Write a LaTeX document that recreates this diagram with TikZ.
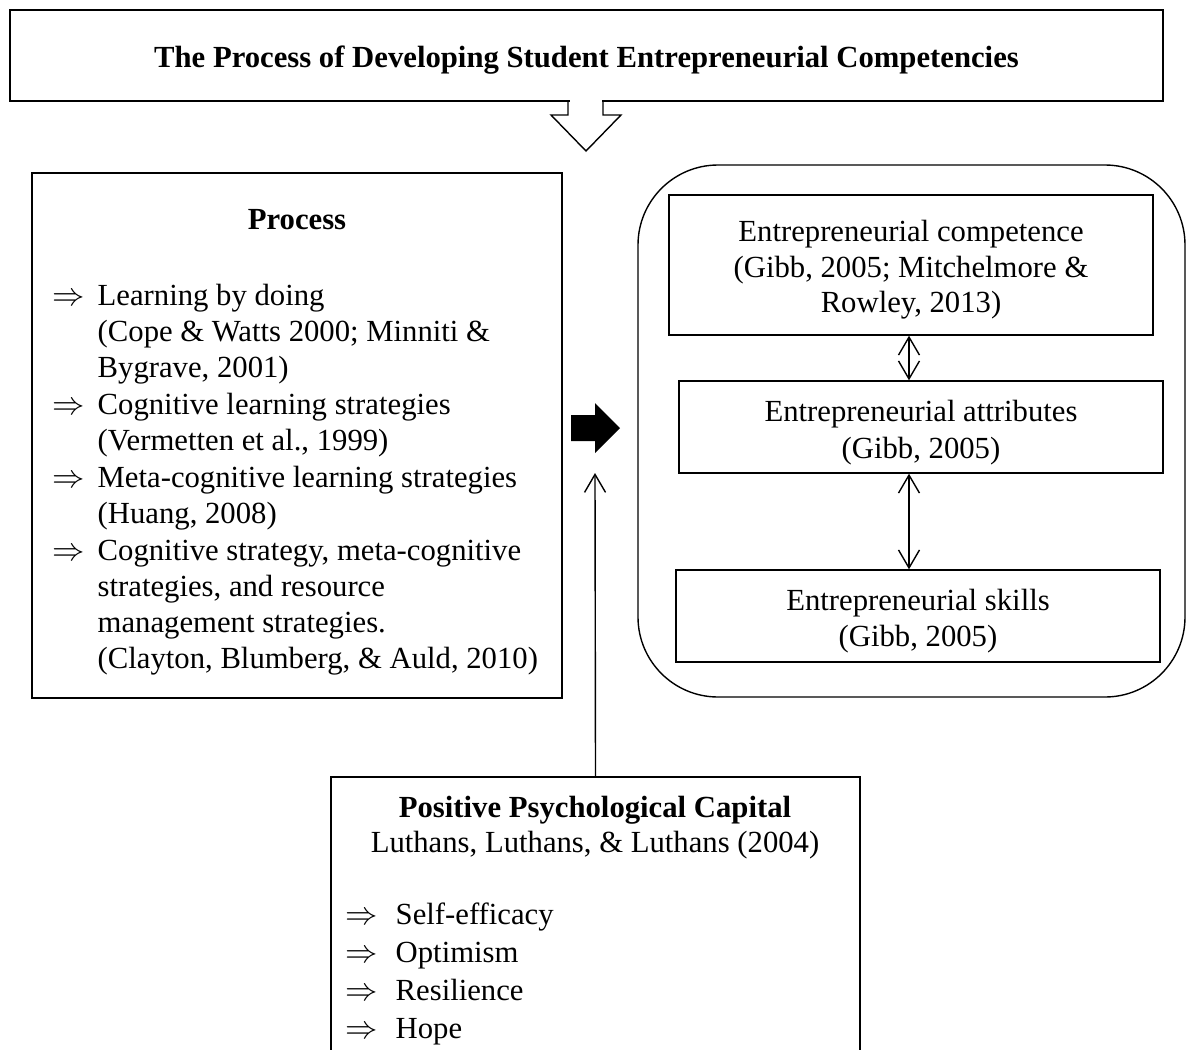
\documentclass[tikz,border=0pt]{standalone}
\usepackage{fontspec}
\usepackage{graphicx}
\setmainfont{Liberation Serif}
\usetikzlibrary{arrows.meta}
\tikzset{barbtip/.tip={Straight Barb[length=18pt,width=21pt,line width=1.4pt]}}
\newcommand{\rarr}{\scalebox{1.3}{$\Rightarrow$}}
\begin{document}
\begin{tikzpicture}[x=1pt,y=-1pt,line width=1.4pt,
  box/.style={draw,rectangle,inner sep=0pt},
  bodyfont/.style={font=\fontsize{30.7}{36}\selectfont},
  lt/.style={bodyfont,anchor=base west,inner sep=0pt},
  ct/.style={bodyfont,anchor=base,inner sep=0pt},
  bt/.style={font=\fontsize{30.7}{36}\selectfont\bfseries,anchor=base,inner sep=0pt},
  dbl/.style={barbtip-barbtip},
  sgl/.style={-barbtip},
]
\useasboundingbox (0,0) rectangle (1187,1050);

% title box and down arrow
\node[box,minimum width=1153pt,minimum height=91pt] (title) at (586.5,55.5) {};
\node[bt] (titletxt) at (586.5,67) {The Process of Developing Student Entrepreneurial Competencies};
\fill[white] (569.5,98) rectangle (601.5,104);
\draw[line join=miter] (568,101) -- (568,115) -- (551,115) -- (586,151) -- (621,115) -- (603,115) -- (603,101);

% process box
\node[box,minimum width=530pt,minimum height=525pt] (proc) at (297,435.5) {};
\node[bt] (proct) at (297,229) {Process};
\node[lt] (pa1) at (52,305) {\rarr};
\node[lt] (p1) at (97,305) {Learning by doing};
\node[lt] (p2) at (97,341) {(Cope \& Watts 2000; Minniti \&};
\node[lt] (p3) at (97,377) {Bygrave, 2001)};
\node[lt] (pa2) at (52,414) {\rarr};
\node[lt] (p4) at (97,414) {Cognitive learning strategies};
\node[lt] (p5) at (97,450) {(Vermetten et al., 1999)};
\node[lt] (pa3) at (52,487) {\rarr};
\node[lt] (p6) at (97,487) {Meta-cognitive learning strategies};
\node[lt] (p7) at (97,523) {(Huang, 2008)};
\node[lt] (pa4) at (52,560) {\rarr};
\node[lt] (p8) at (97,560) {Cognitive strategy, meta-cognitive};
\node[lt] (p9) at (97,596) {strategies, and resource};
\node[lt] (p10) at (97,632) {management strategies.};
\node[lt] (p11) at (97,668) {(Clayton, Blumberg, \& Auld, 2010)};

% block arrow
\fill (571,415) -- (595,415) -- (595,403) -- (620,428) -- (595,453) -- (595,441) -- (571,441) -- cycle;

% right container
\node[draw,rectangle,rounded corners=80pt,inner sep=0pt,minimum width=547pt,minimum height=532pt] (cont) at (911.5,431) {};

\node[box,minimum width=484pt,minimum height=140pt] (b1) at (911,265) {};
\node[ct] (b1a) at (911,241) {Entrepreneurial competence};
\node[ct] (b1b) at (911,277) {(Gibb, 2005; Mitchelmore \&};
\node[ct] (b1c) at (911,312) {Rowley, 2013)};

\node[box,minimum width=484pt,minimum height=92pt] (b2) at (921,427) {};
\node[ct] (b2a) at (921,421) {Entrepreneurial attributes};
\node[ct] (b2b) at (921,458) {(Gibb, 2005)};

\node[box,minimum width=484pt,minimum height=92pt] (b3) at (918,616) {};
\node[ct] (b3a) at (918,610) {Entrepreneurial skills};
\node[ct] (b3b) at (918,646) {(Gibb, 2005)};

\coordinate (ax) at (909,0);
\draw[dbl] (b1.south -| ax) -- (b2.north -| ax);
\draw[dbl] (b2.south -| ax) -- (b3.north -| ax);

% psych capital box
\node[box,minimum width=529pt,minimum height=303pt] (psy) at (595.5,928.5) {};
\node[bt] (psyt) at (595,817) {Positive Psychological Capital};
\node[ct] (psys) at (595,852) {Luthans, Luthans, \& Luthans (2004)};
\node[lt] (qa1) at (345,924) {\rarr};
\node[lt] (q1) at (395,924) {Self-efficacy};
\node[lt] (qa2) at (345,962) {\rarr};
\node[lt] (q2) at (395,962) {Optimism};
\node[lt] (qa3) at (345,1000) {\rarr};
\node[lt] (q3) at (395,1000) {Resilience};
\node[lt] (qa4) at (345,1038) {\rarr};
\node[lt] (q4) at (395,1038) {Hope};

\coordinate (tip) at (595,473);
\draw[sgl] (psy.north) -- (tip);
\end{tikzpicture}
\end{document}
